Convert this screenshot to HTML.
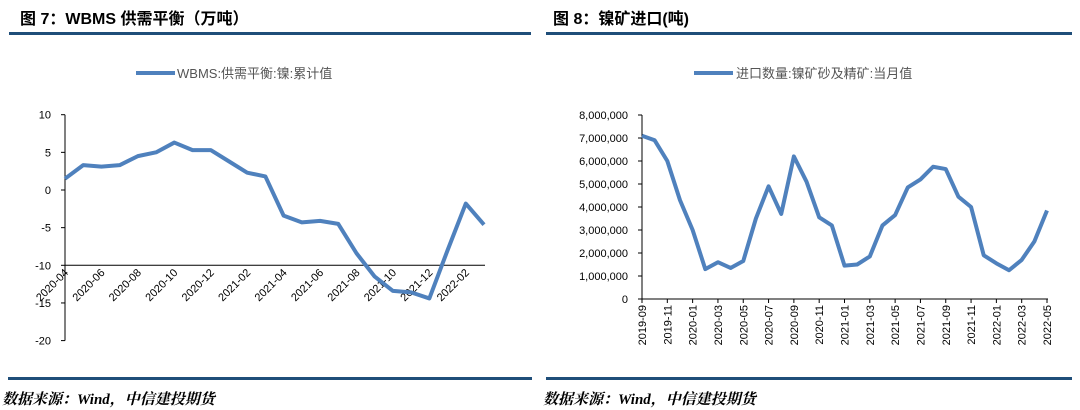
<!DOCTYPE html>
<html><head><meta charset="utf-8">
<style>
body{margin:0;width:1080px;height:410px;background:#fff;overflow:hidden;font-family:"Liberation Sans","Noto Sans CJK SC",sans-serif}
.t{position:absolute;font-weight:bold;font-size:16px;color:#000;top:5px}
.f{position:absolute;font-weight:bold;font-style:italic;font-size:15px;top:388px;font-family:"Liberation Serif","Noto Serif CJK SC",serif}
.hl{position:absolute;height:3px;background:#1f4e79}
</style></head><body>
<div class="t" style="left:20px">图 7：WBMS 供需平衡（万吨）</div>
<div class="t" style="left:553px">图 8：镍矿进口(吨)</div>
<div class="hl" style="left:9px;width:522px;top:32px"></div>
<div class="hl" style="left:546px;width:526px;top:32px"></div>
<div class="hl" style="left:8px;width:524px;top:377px"></div>
<div class="hl" style="left:546px;width:526px;top:377px"></div>
<div class="f" style="left:2px">数据来源：Wind，中信建投期货</div>
<div class="f" style="left:543px">数据来源：Wind，中信建投期货</div>
<svg id="s" width="1080" height="410" style="position:absolute;left:0;top:0"></svg>
<script>
const leftLabels=["2020-04","2020-06","2020-08","2020-10","2020-12","2021-02","2021-04","2021-06","2021-08","2021-10","2021-12","2022-02"];
const leftValues=[1.5,3.3,3.1,3.3,4.5,5.0,6.3,5.3,5.3,3.8,2.3,1.8,-3.4,-4.3,-4.1,-4.5,-8.4,-11.5,-13.4,-13.6,-14.4,-8,-1.8,-4.6];
const leftTicks=[10,5,0,-5,-10,-15,-20];
const rightLabels=["2019-09","2019-11","2020-01","2020-03","2020-05","2020-07","2020-09","2020-11","2021-01","2021-03","2021-05","2021-07","2021-09","2021-11","2022-01","2022-03","2022-05"];
const rightValues=[7100000,6900000,6000000,4300000,3000000,1300000,1600000,1350000,1650000,3500000,4900000,3700000,6200000,5100000,3550000,3200000,1450000,1500000,1850000,3200000,3650000,4850000,5200000,5750000,5650000,4450000,4000000,1900000,1550000,1250000,1700000,2500000,3850000];
const rightTicks=[0,1000000,2000000,3000000,4000000,5000000,6000000,7000000,8000000];
const NS="http://www.w3.org/2000/svg",s=document.getElementById('s');
function mk(t,a,txt){const e=document.createElementNS(NS,t);for(const k in a)e.setAttribute(k,a[k]);if(txt!=null)e.textContent=txt;s.appendChild(e);return e;}
const C="#4f81bd";
// left
const lx=i=>65+i*(484-65)/(leftValues.length-1), ly=v=>190-v*7.53;
let e=mk('line',{x1:65,y1:ly(10),x2:65,y2:ly(-20),stroke:'#000'});

e=mk('line',{x1:65,y1:ly(-10),x2:485,y2:ly(-10),stroke:'#000'});

leftTicks.forEach(v=>{mk('line',{x1:61,x2:65,y1:ly(v),y2:ly(v),stroke:'#000'});
e=mk('text',{x:51,y:ly(v)+4,'font-size':11,'text-anchor':'end',fill:'#000'},v);
});
leftLabels.forEach((l,i)=>{const x=lx(i*2);
e=mk('text',{x:x+4,y:ly(-10)+8,'font-size':11,'text-anchor':'end',fill:'#000',transform:`rotate(-45 ${x+4} ${ly(-10)+8})`},l);
});
e=mk('polyline',{points:leftValues.map((v,i)=>lx(i)+','+ly(v)).join(' '),fill:'none',stroke:C,'stroke-width':4,'stroke-linejoin':'round'});

mk('line',{x1:136,x2:175,y1:73,y2:73,stroke:C,'stroke-width':4});
e=mk('text',{x:177,y:78,'font-size':13,fill:'#555'},'WBMS:供需平衡:镍:累计值');

// right
const rx=i=>642+i*(1047-642)/(rightValues.length-1), ry=v=>299-v/1e6*23;
e=mk('line',{x1:642,y1:ry(8e6),x2:642,y2:ry(0),stroke:'#000'});

e=mk('line',{x1:642,y1:ry(0),x2:1048,y2:ry(0),stroke:'#000'});

rightTicks.forEach(v=>{mk('line',{x1:638,x2:642,y1:ry(v),y2:ry(v),stroke:'#000'});
e=mk('text',{x:628,y:ry(v)+4,'font-size':11,'text-anchor':'end',fill:'#000'},v.toLocaleString('en-US'));
});
rightLabels.forEach((l,i)=>{const x=rx(i*2);
mk('line',{x1:x,x2:x,y1:299,y2:303,stroke:'#000'});
e=mk('text',{x:x+4,y:305,'font-size':11,'text-anchor':'end',fill:'#000',transform:`rotate(-90 ${x+4} 305)`},l);
});
e=mk('polyline',{points:rightValues.map((v,i)=>rx(i)+','+ry(v)).join(' '),fill:'none',stroke:C,'stroke-width':4,'stroke-linejoin':'round'});

mk('line',{x1:694,x2:733,y1:73,y2:73,stroke:C,'stroke-width':4});
e=mk('text',{x:736,y:78,'font-size':13,fill:'#555'},'进口数量:镍矿砂及精矿:当月值');

</script>
</body></html>
